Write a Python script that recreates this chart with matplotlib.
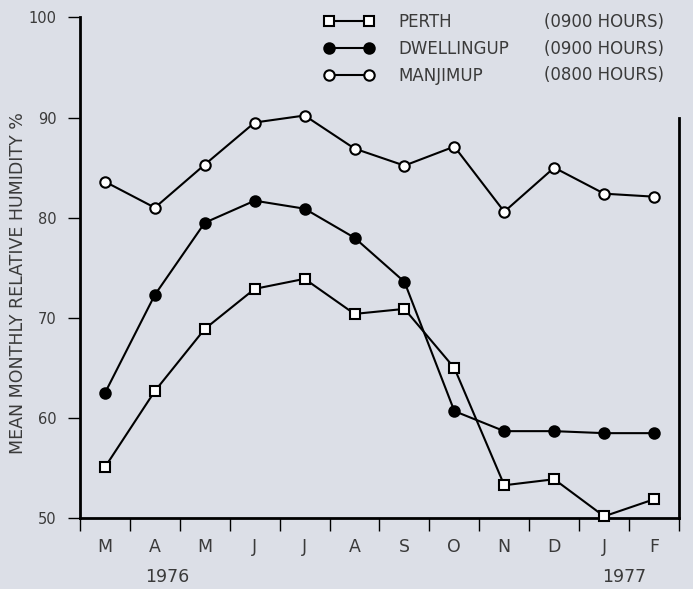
import numpy as np
import matplotlib
matplotlib.use("Agg")
import matplotlib.pyplot as plt

months = ["M", "A", "M", "J", "J", "A", "S", "O", "N", "D", "J", "F"]
perth = [55.1, 62.7, 68.9, 72.9, 73.9, 70.4, 70.9, 65.0, 53.3, 53.9, 50.2, 51.9]
dwellingup = [62.5, 72.3, 79.5, 81.7, 80.9, 78.0, 73.6, 60.7, 58.7, 58.7, 58.5, 58.5]
manjimup = [83.6, 81.0, 85.3, 89.5, 90.2, 86.9, 85.2, 87.1, 80.6, 85.0, 82.4, 82.1]
names = ["PERTH", "DWELLINGUP", "MANJIMUP"]
hours = ["(0900 HOURS)", "(0900 HOURS)", "(0800 HOURS)"]

bg = "#dcdfe7"
txt = "#3a3a3a"

fig = plt.figure(figsize=(6.93, 5.89), dpi=100, facecolor=bg)
ax = fig.add_axes([0.1154, 0.120, 0.8644, 0.8506], facecolor=bg)

x = np.arange(len(months)) + 0.5
style = dict(color="black", lw=1.5, ms=7.5, mew=1.5, clip_on=False, zorder=3)
h1, = ax.plot(x, perth, marker="s", mfc="white", mec="black", **style)
h2, = ax.plot(x, dwellingup, marker="o", mfc="black", mec="black", **style)
h3, = ax.plot(x, manjimup, marker="o", mfc="white", mec="black", **style)

ax.set_xlim(0, 12)
ax.set_ylim(50, 100)

ax.spines["top"].set_visible(False)
for s in ["left", "bottom", "right"]:
    ax.spines[s].set_linewidth(2)
ax.spines["left"].set_bounds(50, 100)
ax.spines["right"].set_bounds(50, 90)

ax.set_yticks(np.arange(50, 101, 10))
ax.tick_params(axis="y", direction="out", length=9, width=1, colors="black",
               labelcolor=txt, labelsize=10.5, pad=8)
ax.set_xticks(np.arange(0, 13))
ax.set_xticklabels([])
ax.set_xticks(x, minor=True)
ax.set_xticklabels(months, minor=True)
ax.tick_params(axis="x", which="major", direction="out", length=9, width=1)
ax.tick_params(axis="x", which="minor", length=0, labelsize=12.5,
               labelcolor=txt, pad=14)

ax.text(1.75, -0.117, "1976", transform=ax.get_xaxis_transform(),
        ha="center", va="center", fontsize=12.5, color=txt)
ax.text(10.9, -0.117, "1977", transform=ax.get_xaxis_transform(),
        ha="center", va="center", fontsize=12.5, color=txt)

ax.set_ylabel("MEAN MONTHLY RELATIVE HUMIDITY %", fontsize=12.5, color=txt)
ax.yaxis.set_label_coords(-0.088, 0.47)

leg = ax.legend([h1, h2, h3], names, loc="upper left",
                bbox_to_anchor=(0.407, 1.009), frameon=False, numpoints=2,
                handlelength=3.0, handletextpad=1.5, labelspacing=0.55,
                borderpad=0, borderaxespad=0, fontsize=12,
                labelcolor=txt)
for i, hr in enumerate(hours):
    ax.text(0.775, 0.990 - i * 0.053, hr, transform=ax.transAxes,
            ha="left", va="center", fontsize=12, color=txt)

fig.savefig("out.png", dpi=100, facecolor=bg)
